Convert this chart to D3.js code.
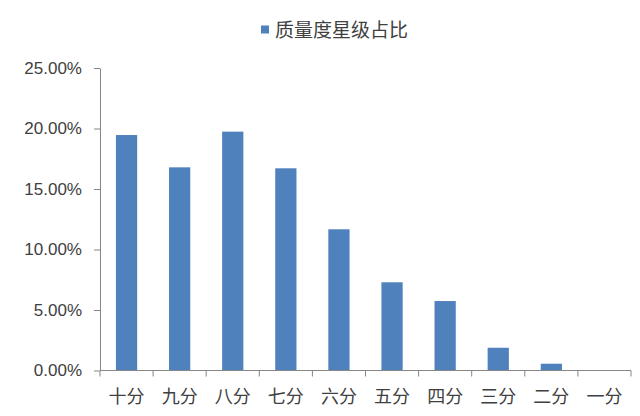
<!DOCTYPE html>
<html>
<head>
<meta charset="utf-8">
<script src="https://cdn.jsdelivr.net/npm/d3@7"></script>
<style>
body { margin: 0; background: #fff; }
svg { display: block; }
</style>
</head>
<body>
<svg id="chart" width="640" height="416"></svg>
<script>
// star level share of quality score
var categories = ["十分", "九分", "八分", "七分", "六分", "五分", "四分", "三分", "二分", "一分"];
var shares = [19.46, 16.79, 19.74, 16.71, 11.67, 7.29, 5.74, 1.88, 0.56, 0];
var yTicks = [0, 5, 10, 15, 20, 25];
var seriesName = "质量度星级占比";

var svg = d3.select("#chart");
// note: "top" is taken by window.top, so plot edges get their own names
var plotLeft = 100, plotRight = 631, plotTop = 68, plotBottom = 370.5;
var barColor = "#4f81bd", axisColor = "#868686", textColor = "#404040";

var x = d3.scaleBand().domain(categories).range([plotLeft, plotRight]).paddingInner(0.6).paddingOuter(0.3);
var y = d3.scaleLinear().domain([0, 25]).range([plotBottom, plotTop]);

// bars
svg.append("g").selectAll("rect")
    .data(shares)
    .enter().append("rect")
    .attr("x", function(d, i) { return x(categories[i]); })
    .attr("y", function(d) { return y(d); })
    .attr("width", x.bandwidth())
    .attr("height", function(d) { return plotBottom - y(d); })
    .attr("fill", barColor);

// y axis
var yAxis = svg.append("g")
    .attr("transform", "translate(" + plotLeft + ",0)")
    .call(d3.axisLeft(y).tickValues(yTicks).tickSize(6).tickSizeOuter(0)
        .tickFormat(function(d) { return d.toFixed(2) + "%"; }));
yAxis.select(".domain").attr("stroke", axisColor);
yAxis.selectAll(".tick line").attr("stroke", axisColor);
yAxis.selectAll("text")
    .attr("x", -18)
    .attr("fill", textColor)
    .style("font-family", "'Liberation Sans', Arial, sans-serif")
    .style("font-size", "17px");

// x axis, ticks on band edges like excel
var step = x.step();
var edges = d3.range(categories.length + 1).map(function(i) { return plotLeft + i * step; });
var xAxis = svg.append("g").attr("transform", "translate(0," + plotBottom + ")");
xAxis.append("line")
    .attr("x1", plotLeft).attr("x2", plotRight)
    .attr("stroke", axisColor);
xAxis.selectAll(".edge")
    .data(edges)
    .enter().append("line")
    .attr("class", "edge")
    .attr("x1", function(d) { return d; }).attr("x2", function(d) { return d; })
    .attr("y1", 0).attr("y2", 6)
    .attr("stroke", axisColor);
xAxis.selectAll("text")
    .data(categories)
    .enter().append("text")
    .attr("x", function(d) { return x(d) + x.bandwidth() / 2; })
    .attr("y", 32)
    .attr("text-anchor", "middle")
    .attr("fill", textColor)
    .style("font-family", "'Noto Sans CJK SC', sans-serif")
    .style("font-size", "18px")
    .text(function(d) { return d; });

// legend
var legend = svg.append("g");
legend.append("rect")
    .attr("x", 261).attr("y", 25.5)
    .attr("width", 8).attr("height", 8)
    .attr("fill", barColor);
legend.append("text")
    .attr("x", 275).attr("y", 37)
    .attr("fill", textColor)
    .style("font-family", "'Noto Sans CJK SC', sans-serif")
    .style("font-size", "19px")
    .text(seriesName);
</script>
</body>
</html>
